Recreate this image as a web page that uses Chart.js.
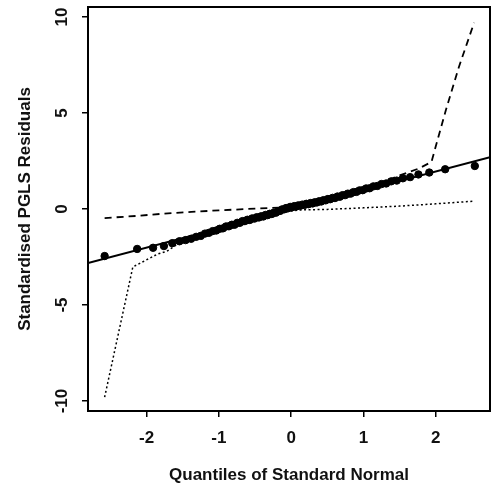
<!DOCTYPE html>
<html>
<head>
<meta charset="utf-8">
<script src="https://cdn.jsdelivr.net/npm/chart.js@4"></script>
<style>
  html, body { margin: 0; padding: 0; background: #fff; }
  #box { width: 496px; height: 486px; }
</style>
</head>
<body>
<div id="box"><canvas id="grafico"></canvas></div>
<script>
// quantis teóricos e resíduos padronizados
const quantis = [
  -2.58, -2.13, -1.91, -1.76, -1.645, -1.545, -1.46, -1.383, -1.314, -1.25,
  -1.192, -1.137, -1.085, -1.036, -0.989, -0.945, -0.902, -0.861, -0.821, -0.783,
  -0.746, -0.71, -0.674, -0.64, -0.606, -0.573, -0.54, -0.508, -0.477, -0.446,
  -0.415, -0.385, -0.355, -0.326, -0.297, -0.268, -0.239, -0.21, -0.182, -0.154,
  -0.126, -0.098, -0.07, -0.042, -0.014, 0.014, 0.042, 0.07, 0.098, 0.126,
  0.154, 0.182, 0.21, 0.239, 0.268, 0.297, 0.326, 0.355, 0.385, 0.415,
  0.446, 0.477, 0.508, 0.54, 0.573, 0.606, 0.64, 0.674, 0.71, 0.746,
  0.783, 0.821, 0.861, 0.902, 0.945, 0.989, 1.036, 1.085, 1.137, 1.192,
  1.25, 1.314, 1.383, 1.46, 1.545, 1.645, 1.76, 1.91, 2.13, 2.54
];
const residuos = [
  -2.45, -2.08, -2.02, -1.93, -1.78, -1.68, -1.62, -1.55, -1.45, -1.40,
  -1.28, -1.24, -1.15, -1.12, -1.03, -1.01, -0.91, -0.90, -0.82, -0.82,
  -0.72, -0.72, -0.63, -0.63, -0.56, -0.57, -0.49, -0.50, -0.43, -0.44,
  -0.38, -0.39, -0.31, -0.32, -0.25, -0.26, -0.19, -0.19, -0.11, -0.10,
  -0.02, -0.02, 0.05, 0.04, 0.11, 0.09, 0.15, 0.13, 0.19, 0.17,
  0.23, 0.21, 0.27, 0.25, 0.31, 0.29, 0.35, 0.34, 0.40, 0.39,
  0.46, 0.45, 0.52, 0.51, 0.58, 0.57, 0.65, 0.64, 0.72, 0.72,
  0.80, 0.80, 0.88, 0.89, 0.97, 0.98, 1.07, 1.08, 1.18, 1.20,
  1.30, 1.33, 1.44, 1.48, 1.60, 1.66, 1.80, 1.90, 2.07, 2.24
];

// reta de referência
const retaX = [-2.81, 2.75];
const retaY = [-2.81, 2.70];

// curva tracejada
const tracejX = [-2.58, -2.13, -1.76, -1.38, -1.0, -0.6, -0.3, 0.0, 0.3, 0.6, 0.9, 1.2, 1.5, 1.76, 1.94, 2.14, 2.32, 2.53];
const tracejY = [-0.47, -0.36, -0.24, -0.15, -0.07, 0.0, 0.05, 0.1, 0.35, 0.65, 0.95, 1.3, 1.75, 2.1, 2.45, 5.16, 7.4, 9.7];

// curva pontilhada
const pontilX = [-2.58, -2.19, -1.85, -1.72, -1.6, -1.3, -1.0, -0.7, -0.4, -0.15, 0.1, 0.5, 1.0, 1.5, 2.0, 2.54];
const pontilY = [-9.8, -3.02, -2.35, -2.2, -1.9, -1.5, -1.15, -0.85, -0.5, -0.2, -0.05, -0.02, 0.06, 0.15, 0.27, 0.41];

const ticksX = [-2, -1, 0, 1, 2];
const ticksY = [-10, -5, 0, 5, 10];

const fonte = "'Liberation Sans', Arial, Helvetica, sans-serif";

const pares = (xs, ys) => xs.map((x, i) => ({ x: x, y: ys[i] }));

// moldura e rótulos do eixo y (girados, estilo R)
const molduraPlugin = {
  id: 'moldura',
  afterDraw(chart) {
    const ctx = chart.ctx;
    const a = chart.chartArea;
    ctx.save();
    ctx.strokeStyle = '#000';
    ctx.lineWidth = 2;
    ctx.strokeRect(a.left, a.top, a.right - a.left, a.bottom - a.top);
    ctx.fillStyle = '#111';
    ctx.font = 'bold 17px ' + fonte;
    ctx.textAlign = 'center';
    ctx.textBaseline = 'middle';
    const sy = chart.scales.y;
    ticksY.forEach(v => {
      const py = sy.getPixelForValue(v);
      ctx.save();
      ctx.translate(62, py);
      ctx.rotate(-Math.PI / 2);
      ctx.fillText(String(v), 0, 0);
      ctx.restore();
    });
    ctx.restore();
  }
};

const config = {
  type: 'scatter',
  data: {
    datasets: [
      {
        label: 'pontos',
        data: pares(quantis, residuos),
        backgroundColor: '#000',
        borderColor: '#000',
        pointRadius: 3.7,
        showLine: false
      },
      {
        label: 'reta',
        data: pares(retaX, retaY),
        borderColor: '#000',
        borderWidth: 2,
        pointRadius: 0,
        showLine: true
      },
      {
        label: 'tracejada',
        data: pares(tracejX, tracejY),
        borderColor: '#000',
        borderWidth: 1.8,
        borderDash: [7, 5],
        pointRadius: 0,
        showLine: true
      },
      {
        label: 'pontilhada',
        data: pares(pontilX, pontilY),
        borderColor: '#000',
        borderWidth: 1.5,
        borderDash: [2, 2.5],
        pointRadius: 0,
        showLine: true
      }
    ]
  },
  options: {
    responsive: true,
    maintainAspectRatio: false,
    animation: false,
    layout: { padding: { top: 7, right: 6, left: 0, bottom: 0 } },
    plugins: { legend: { display: false }, tooltip: { enabled: false } },
    scales: {
      x: {
        type: 'linear',
        min: -2.81,
        max: 2.75,
        afterBuildTicks: s => { s.ticks = ticksX.map(v => ({ value: v })); },
        afterFit: s => { s.height = 75; },
        grid: { drawOnChartArea: false, drawTicks: true, tickLength: 6, color: '#000', lineWidth: 1.5 },
        border: { display: false },
        ticks: { color: '#111', font: { size: 17, family: fonte, weight: 'bold' }, padding: 11, maxRotation: 0, autoSkip: false },
        title: { display: true, text: 'Quantiles of Standard Normal', color: '#111', font: { size: 17, family: fonte, weight: 'bold' }, padding: { top: 0, bottom: 0 } }
      },
      y: {
        type: 'linear',
        min: -10.52,
        max: 10.52,
        afterBuildTicks: s => { s.ticks = ticksY.map(v => ({ value: v })); },
        afterFit: s => { s.width = 88; },
        grid: { drawOnChartArea: false, drawTicks: true, tickLength: 6, color: '#000', lineWidth: 1.5 },
        border: { display: false },
        ticks: { display: false },
        title: { display: true, text: 'Standardised PGLS Residuals', color: '#111', font: { size: 17, family: fonte, weight: 'bold' }, padding: { top: 15, bottom: 0 } }
      }
    }
  },
  plugins: [molduraPlugin]
};

const meuGrafico = new Chart(document.getElementById('grafico'), config);
</script>
</body>
</html>
